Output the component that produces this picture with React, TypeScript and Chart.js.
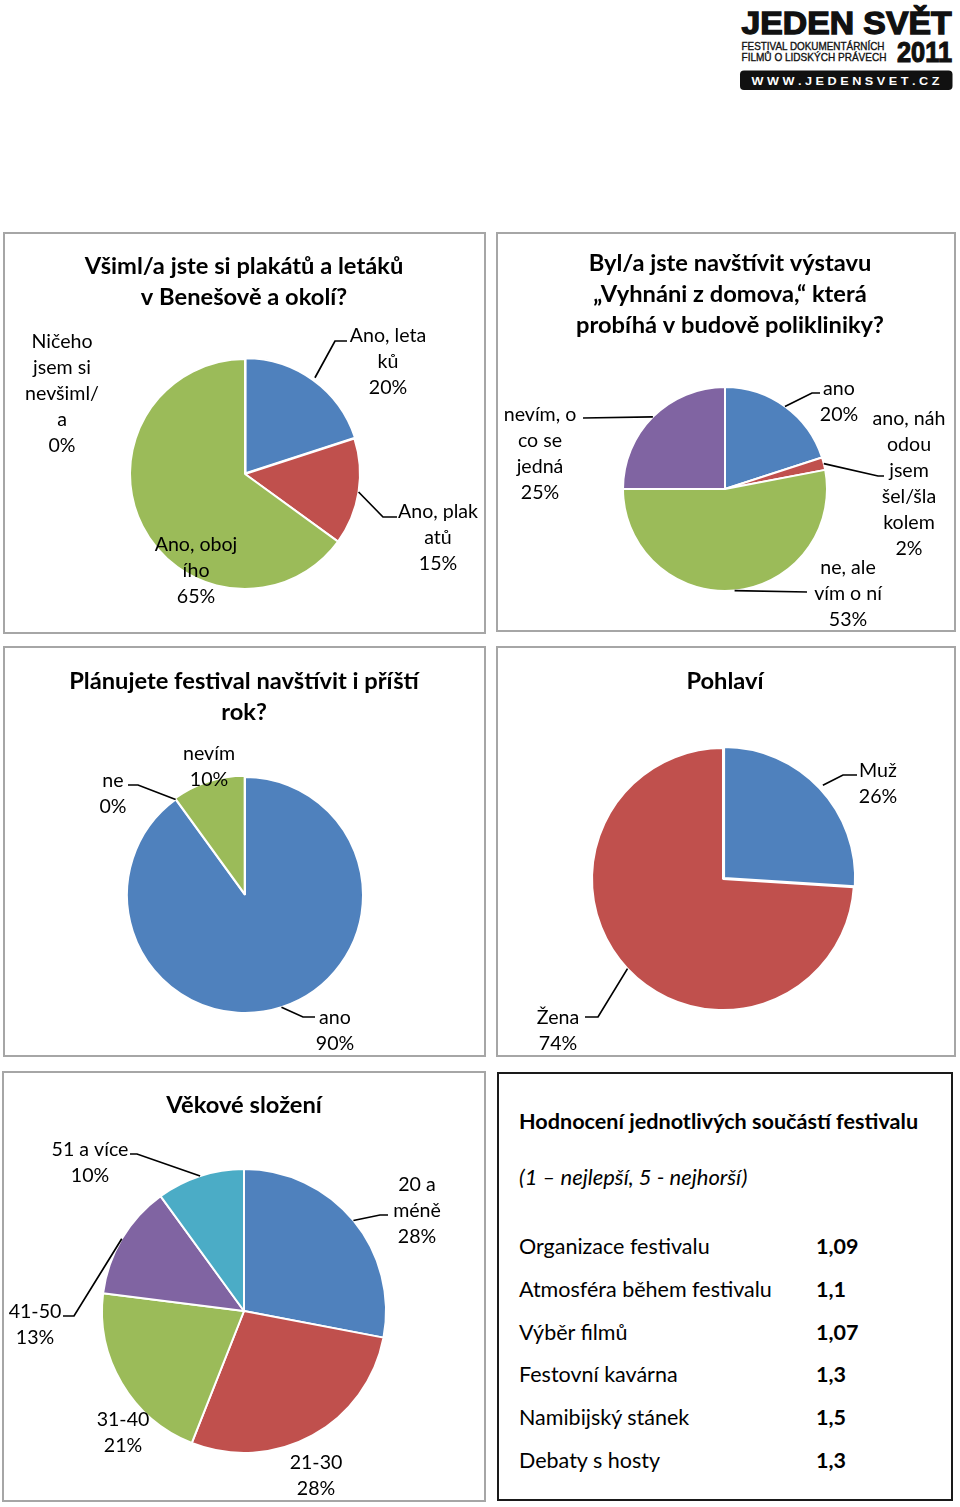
import React, { useEffect, useRef } from "react";
import { Chart, registerables } from "chart.js";

Chart.register(...registerables);

// ---------------- DATA ----------------
const posterCategories = ["Ano, letaků", "Ano, plakatů", "Ano, obojího", "Ničeho jsem si nevšiml/a"];
const posterValues = [20, 15, 65, 0];

const exhibitionCategories = ["ano", "ano, náhodou jsem šel/šla kolem", "ne, ale vím o ní", "nevím, o co se jedná"];
const exhibitionValues = [20, 2, 53, 25];

const nextYearCategories = ["ano", "ne", "nevím"];
const nextYearValues = [90, 0, 10];

const genderCategories = ["Muž", "Žena"];
const genderValues = [26, 74];

const ageCategories = ["20 a méně", "21-30", "31-40", "41-50", "51 a více"];
const ageValues = [28, 28, 21, 13, 10];

const ratingItems = [
  "Organizace festivalu",
  "Atmosféra během festivalu",
  "Výběr filmů",
  "Festovní kavárna",
  "Namibijský stánek",
  "Debaty s hosty",
];
const ratingValues = ["1,09", "1,1", "1,07", "1,3", "1,5", "1,3"];

// ---------------- STYLE ----------------
const BLUE = "#4F81BD";
const RED = "#C0504D";
const GREEN = "#9BBB59";
const PURPLE = "#8064A2";
const AQUA = "#4BACC6";

const FONT = "Lato, 'Noto Sans', sans-serif";
const LABEL_FS = 19.6;
const LABEL_LH = 26;
const TITLE_FS = 23.7;
const TITLE_LH = 31;

type Pt = [number, number];
type LabelSpec = { index: number; breaks?: number[]; x: number; y: number; leader?: Pt[] };
type PanelSpec = {
  rect: [number, number, number, number];
  center: Pt;
  radius: number;
  categories: string[];
  values: number[];
  colors: string[];
  offsets?: number[];
  title: string[];
  titleX: number;
  titleY: number;
  labels: LabelSpec[];
};

function splitLines(text: string, breaks?: number[]): string[] {
  if (!breaks || !breaks.length) return [text];
  const out: string[] = [];
  let prev = 0;
  for (const b of breaks) {
    out.push(text.slice(prev, b).trim());
    prev = b;
  }
  out.push(text.slice(prev).trim());
  return out;
}

const panels: PanelSpec[] = [
  {
    rect: [3, 232, 483, 402],
    center: [245, 474],
    radius: 115,
    categories: posterCategories,
    values: posterValues,
    colors: [BLUE, RED, GREEN, PURPLE],
    offsets: [4, 0, 0, 0],
    title: ["Všiml/a jste si plakátů a letáků", "v Benešově a okolí?"],
    titleX: 244,
    titleY: 265,
    labels: [
      { index: 0, breaks: [9], x: 388, y: 335, leader: [[335, 341], [347, 341]] },
      { index: 1, breaks: [9], x: 438, y: 511, leader: [[383, 517], [397, 517]] },
      { index: 2, breaks: [9], x: 196, y: 544 },
      { index: 3, breaks: [6, 14, 23], x: 62, y: 341 },
    ],
  },
  {
    rect: [496, 232, 460, 400],
    center: [725, 489],
    radius: 102,
    categories: exhibitionCategories,
    values: exhibitionValues,
    colors: [BLUE, RED, GREEN, PURPLE],
    title: ["Byl/a jste navštívit výstavu", "„Vyhnáni z domova,“ která", "probíhá v budově polikliniky?"],
    titleX: 730,
    titleY: 262,
    labels: [
      { index: 0, x: 839, y: 388, leader: [[812, 393], [820, 393]] },
      { index: 1, breaks: [8, 12, 17, 25], x: 909, y: 418, leader: [[878, 476], [884, 476]] },
      { index: 2, breaks: [7], x: 848, y: 567, leader: [[807, 592]] },
      { index: 3, breaks: [8, 14], x: 540, y: 414, leader: [[583, 418]] },
    ],
  },
  {
    rect: [3, 646, 483, 411],
    center: [245, 895],
    radius: 118,
    categories: nextYearCategories,
    values: nextYearValues,
    colors: [BLUE, RED, GREEN],
    offsets: [0, 0, 4],
    title: ["Plánujete festival navštívit i příští", "rok?"],
    titleX: 244,
    titleY: 680,
    labels: [
      { index: 0, x: 335, y: 1017, leader: [[303, 1017], [315, 1017]] },
      { index: 1, x: 113, y: 780, leader: [[138, 785], [128, 785]] },
      { index: 2, x: 209, y: 753 },
    ],
  },
  {
    rect: [496, 646, 460, 411],
    center: [723, 879],
    radius: 131,
    categories: genderCategories,
    values: genderValues,
    colors: [BLUE, RED],
    offsets: [6, 0],
    title: ["Pohlaví"],
    titleX: 725,
    titleY: 680,
    labels: [
      { index: 0, x: 878, y: 770, leader: [[843, 775], [857, 775]] },
      { index: 1, x: 558, y: 1017, leader: [[598, 1017], [585, 1017]] },
    ],
  },
  {
    rect: [2, 1071, 484, 431],
    center: [244, 1311],
    radius: 142,
    categories: ageCategories,
    values: ageValues,
    colors: [BLUE, RED, GREEN, PURPLE, AQUA],
    title: ["Věkové složení"],
    titleX: 244,
    titleY: 1104,
    labels: [
      { index: 0, breaks: [4], x: 417, y: 1184, leader: [[380, 1215], [388, 1215]] },
      { index: 1, x: 316, y: 1462 },
      { index: 2, x: 123, y: 1419 },
      { index: 3, x: 35, y: 1311, leader: [[74, 1316], [63, 1316]] },
      { index: 4, x: 90, y: 1149, leader: [[137, 1154], [130, 1154]] },
    ],
  },
];

function makeLabelPlugin(spec: PanelSpec) {
  return {
    id: "pieLabels",
    afterDraw(chart: any) {
      const ctx: CanvasRenderingContext2D = chart.ctx;
      const [L, T] = spec.rect;
      ctx.save();
      ctx.fillStyle = "#000";
      ctx.textAlign = "center";
      ctx.textBaseline = "alphabetic";
      // title
      ctx.font = `bold ${TITLE_FS}px ${FONT}`;
      spec.title.forEach((line, k) => {
        ctx.fillText(line, spec.titleX - L, spec.titleY + k * TITLE_LH + TITLE_FS * 0.36 - T);
      });
      // labels
      const meta = chart.getDatasetMeta(0);
      ctx.font = `${LABEL_FS}px ${FONT}`;
      spec.labels.forEach((lab) => {
        const lines = splitLines(spec.categories[lab.index], lab.breaks);
        lines.push(`${spec.values[lab.index]}%`);
        lines.forEach((line, k) => {
          ctx.fillText(line, lab.x - L, lab.y + k * LABEL_LH + LABEL_FS * 0.36 - T);
        });
        if (lab.leader) {
          const arc = meta.data[lab.index];
          const p = arc.getProps(["x", "y", "startAngle", "endAngle", "outerRadius"], true);
          const mid = (p.startAngle + p.endAngle) / 2;
          const off = (spec.offsets && spec.offsets[lab.index]) || 0;
          const sx = p.x + Math.cos(mid) * (p.outerRadius + off);
          const sy = p.y + Math.sin(mid) * (p.outerRadius + off);
          ctx.beginPath();
          ctx.moveTo(sx, sy);
          lab.leader.forEach(([x, y]) => ctx.lineTo(x - L, y - T));
          ctx.strokeStyle = "#000";
          ctx.lineWidth = 1.7;
          ctx.stroke();
        }
      });
      ctx.restore();
    },
  };
}

function PiePanel({ spec }: { spec: PanelSpec }) {
  const ref = useRef<HTMLCanvasElement | null>(null);
  const [L, T, W, H] = spec.rect;
  useEffect(() => {
    if (!ref.current) return;
    const cx = spec.center[0] - L;
    const cy = spec.center[1] - T;
    const r = spec.radius;
    const chart = new Chart(ref.current, {
      type: "pie",
      data: {
        labels: spec.categories,
        datasets: [
          {
            data: spec.values,
            backgroundColor: spec.colors,
            borderColor: "#ffffff",
            borderWidth: 2,
            offset: spec.offsets || 0,
          },
        ],
      },
      options: {
        responsive: false,
        animation: false,
        radius: r,
        events: [],
        layout: { padding: { left: cx - r, right: W - cx - r, top: cy - r, bottom: H - cy - r } },
        plugins: { legend: { display: false }, tooltip: { enabled: false }, title: { display: false } },
      } as any,
      plugins: [makeLabelPlugin(spec)],
    });
    return () => chart.destroy();
  }, []);
  return (
    <>
      <div
        style={{
          position: "absolute",
          left: L,
          top: T,
          width: W,
          height: H,
          border: "2px solid #a6a6a6",
          boxSizing: "border-box",
        }}
      />
      <canvas
        ref={ref}
        width={W}
        height={H}
        style={{ position: "absolute", left: L, top: T, width: W, height: H }}
      />
    </>
  );
}

const LOGO_FONT = "'Liberation Sans', Arial, sans-serif";

function Logo() {
  return (
    <svg width={960} height={100} style={{ position: "absolute", left: 0, top: 0 }}>
      <text x={741.5} y={33.5} fontFamily={LOGO_FONT} fontWeight="bold" fontSize={30.5} textLength={210} lengthAdjust="spacingAndGlyphs" fill="#111" stroke="#111" strokeWidth={1.3}>
        JEDEN SVĚT
      </text>
      <text x={741.5} y={49.5} fontFamily={LOGO_FONT} fontSize={10.5} textLength={143} lengthAdjust="spacingAndGlyphs" fill="#111" stroke="#111" strokeWidth={0.35}>
        FESTIVAL DOKUMENTÁRNÍCH
      </text>
      <text x={741.5} y={61.3} fontFamily={LOGO_FONT} fontSize={10.5} textLength={145} lengthAdjust="spacingAndGlyphs" fill="#111" stroke="#111" strokeWidth={0.35}>
        FILMŮ O LIDSKÝCH PRÁVECH
      </text>
      <text x={897} y={62} fontFamily={LOGO_FONT} fontWeight="bold" fontSize={30} textLength={55} lengthAdjust="spacingAndGlyphs" fill="#111" stroke="#111" strokeWidth={1.2}>
        2011
      </text>
      <rect x={740} y={70.5} width={212.5} height={19.5} rx={4} fill="#111" />
      <text x={751.5} y={85} fontFamily={LOGO_FONT} fontWeight="bold" fontSize={11.5} textLength={188} lengthAdjust="spacingAndGlyphs" fill="#fff">
        W W W . J E D E N S V E T . C Z
      </text>
    </svg>
  );
}

const TABLE_RECT: [number, number, number, number] = [497, 1072, 456, 429];
const TABLE_LEFT = 519;
const TABLE_VALUE_LEFT = 816;
const TABLE_HEAD_Y = 1121;
const TABLE_SUB_Y = 1177;
const TABLE_ROW_Y = 1246;
const TABLE_ROW_STEP = 42.8;
const TABLE_FS = 21.5;

function RatingTable() {
  const [L, T, W, H] = TABLE_RECT;
  const line = (y: number) => ({ position: "absolute" as const, top: y - 15, height: 30, lineHeight: "30px", whiteSpace: "nowrap" as const });
  return (
    <>
      <div style={{ position: "absolute", left: L, top: T, width: W, height: H, border: "2px solid #1a1a1a", boxSizing: "border-box" }} />
      <div style={{ ...line(TABLE_HEAD_Y), left: TABLE_LEFT, fontFamily: FONT, fontWeight: "bold", fontSize: 21.6 }}>
        Hodnocení jednotlivých součástí festivalu
      </div>
      <div style={{ ...line(TABLE_SUB_Y), left: TABLE_LEFT, fontFamily: FONT, fontStyle: "italic", fontSize: 22 }}>
        (1 – nejlepší, 5 - nejhorší)
      </div>
      {ratingItems.map((item, i) => (
        <React.Fragment key={item}>
          <div style={{ ...line(TABLE_ROW_Y + i * TABLE_ROW_STEP), left: TABLE_LEFT, fontFamily: FONT, fontSize: TABLE_FS }}>{item}</div>
          <div style={{ ...line(TABLE_ROW_Y + i * TABLE_ROW_STEP), left: TABLE_VALUE_LEFT, fontFamily: FONT, fontWeight: "bold", fontSize: TABLE_FS }}>
            {ratingValues[i]}
          </div>
        </React.Fragment>
      ))}
    </>
  );
}

export default function App() {
  return (
    <div style={{ position: "absolute", left: 0, top: 0, width: 960, height: 1507, background: "#fff", color: "#000", overflow: "hidden" }}>
      <Logo />
      {panels.map((p, i) => (
        <PiePanel key={i} spec={p} />
      ))}
      <RatingTable />
    </div>
  );
}
